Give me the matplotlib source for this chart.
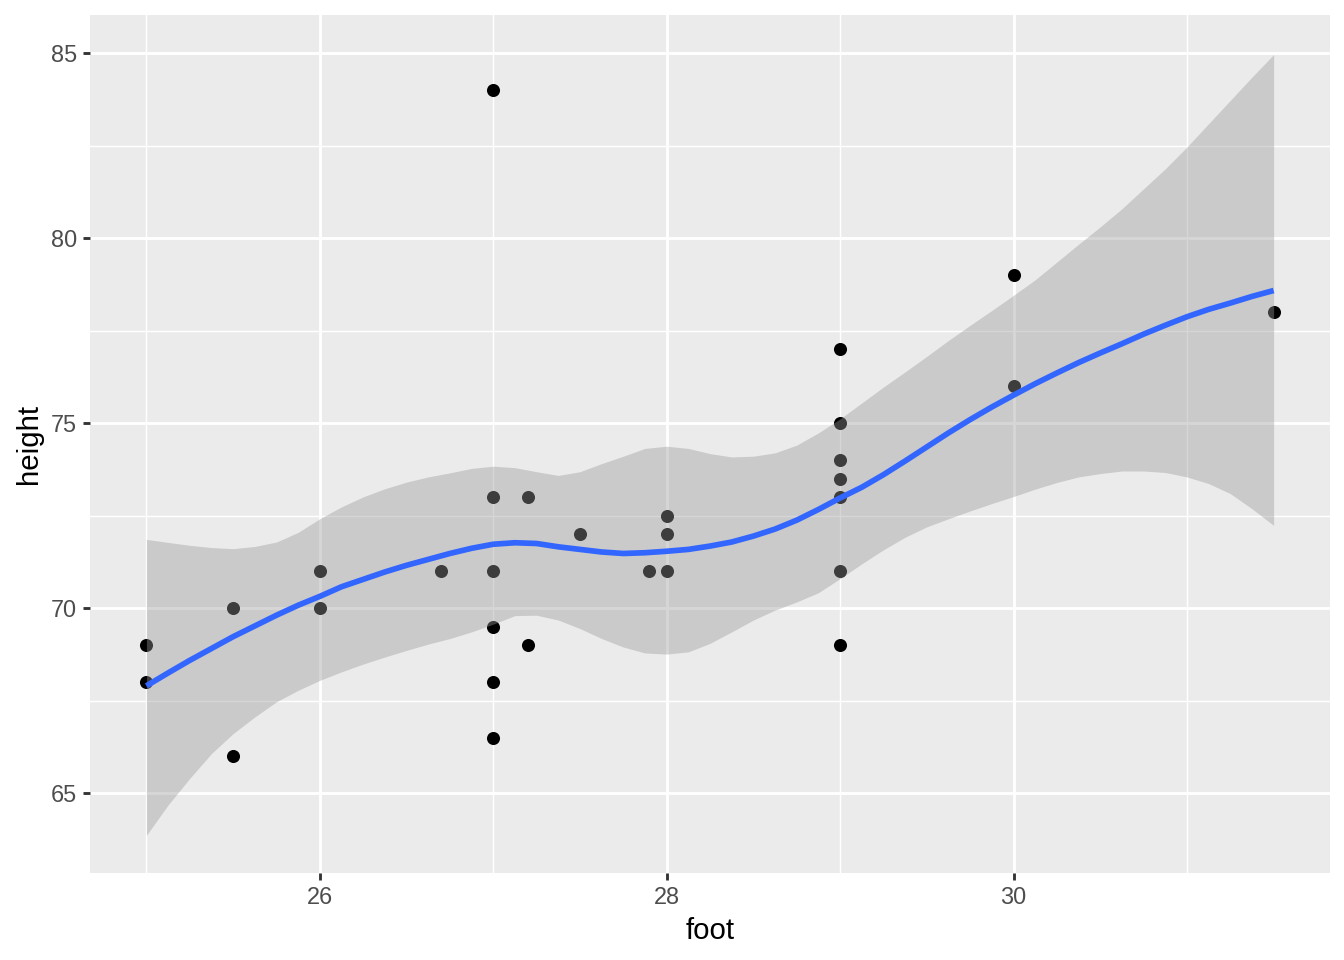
import numpy as np
import matplotlib
matplotlib.use("Agg")
import matplotlib.pyplot as plt

plt.rcParams['font.family'] = ['Liberation Sans', 'DejaVu Sans']

# data points
foot = [25, 25, 25.5, 25.5, 26, 26, 26.7,
        27, 27, 27, 27, 27, 27, 27.2, 27.2, 27.5, 27.9,
        28, 28, 28, 29, 29, 29, 29, 29, 29, 29,
        30, 30, 31.5]
height = [69, 68, 70, 66, 71, 70, 71,
          84, 73, 71, 69.5, 68, 66.5, 73, 69, 72, 71,
          72.5, 72, 71, 77, 75, 74, 73.5, 73, 71, 69,
          79, 76, 78]

# loess smoother + band, every 0.125
fit_x = [25, 25.125, 25.25, 25.375, 25.5, 25.625, 25.75, 25.875,
         26, 26.125, 26.25, 26.375, 26.5, 26.625, 26.75, 26.875,
         27, 27.125, 27.25, 27.375, 27.5, 27.625, 27.75, 27.875,
         28, 28.125, 28.25, 28.375, 28.5, 28.625, 28.75, 28.875,
         29, 29.125, 29.25, 29.375, 29.5, 29.625, 29.75, 29.875,
         30, 30.125, 30.25, 30.375, 30.5, 30.625, 30.75, 30.875,
         31, 31.125, 31.25, 31.375, 31.5]
fit_y = [67.90, 68.25, 68.59, 68.91, 69.23, 69.52, 69.81, 70.08,
         70.32, 70.58, 70.78, 70.98, 71.16, 71.32, 71.48, 71.62,
         71.73, 71.77, 71.75, 71.66, 71.59, 71.52, 71.48, 71.50,
         71.54, 71.59, 71.68, 71.79, 71.95, 72.14, 72.38, 72.67,
         72.98, 73.27, 73.61, 73.98, 74.36, 74.74, 75.10, 75.44,
         75.76, 76.07, 76.36, 76.64, 76.90, 77.15, 77.41, 77.65,
         77.88, 78.08, 78.25, 78.43, 78.59]
fit_hi = [71.86, 71.78, 71.70, 71.64, 71.61, 71.67, 71.79, 72.05,
          72.42, 72.74, 73.01, 73.23, 73.41, 73.55, 73.66, 73.78,
          73.84, 73.80, 73.69, 73.59, 73.69, 73.91, 74.11, 74.32,
          74.38, 74.32, 74.18, 74.09, 74.11, 74.20, 74.41, 74.74,
          75.12, 75.55, 75.98, 76.39, 76.81, 77.24, 77.65, 78.05,
          78.46, 78.88, 79.36, 79.84, 80.31, 80.80, 81.34, 81.88,
          82.47, 83.10, 83.73, 84.36, 84.97]
fit_lo = [63.86, 64.68, 65.40, 66.07, 66.61, 67.06, 67.47, 67.78,
          68.05, 68.28, 68.49, 68.68, 68.86, 69.03, 69.18, 69.36,
          69.57, 69.80, 69.81, 69.68, 69.45, 69.18, 68.95, 68.79,
          68.76, 68.82, 69.05, 69.36, 69.68, 69.95, 70.17, 70.42,
          70.80, 71.20, 71.58, 71.92, 72.20, 72.42, 72.63, 72.83,
          73.02, 73.22, 73.40, 73.55, 73.64, 73.71, 73.71, 73.67,
          73.55, 73.37, 73.10, 72.69, 72.24]

fig = plt.figure(figsize=(7, 5), dpi=192)
ax = fig.add_axes([0.0670, 0.0906, 0.92258, 0.8938])
ax.set_facecolor("#EBEBEB")

# grid like ggplot
for v in [25, 27, 29, 31]:
    ax.axvline(v, color="white", lw=0.53, zorder=0)
for v in [67.5, 72.5, 77.5, 82.5]:
    ax.axhline(v, color="white", lw=0.53, zorder=0)
for v in [26, 28, 30]:
    ax.axvline(v, color="white", lw=1.07, zorder=0)
for v in [65, 70, 75, 80, 85]:
    ax.axhline(v, color="white", lw=1.07, zorder=0)

ax.scatter(foot, height, s=24, color="black", linewidths=0, zorder=2)
ax.fill_between(fit_x, fit_lo, fit_hi, color="#999999", alpha=0.4, linewidth=0, zorder=3)
ax.plot(fit_x, fit_y, color="#3366FF", lw=2.13, zorder=4, solid_capstyle="butt")

ax.set_xlim(24.675, 31.825)
ax.set_ylim(62.84, 86.04)
ax.set_xticks([26, 28, 30])
ax.set_yticks([65, 70, 75, 80, 85])
ax.tick_params(colors="#333333", labelcolor="#4D4D4D", labelsize=8.8,
               length=2.75, width=1.07, pad=2.2)
for s in ax.spines.values():
    s.set_visible(False)

ax.set_xlabel("foot", fontsize=11, labelpad=3)
ax.set_ylabel("height", fontsize=11, labelpad=3)

fig.savefig("out.png", dpi=192)
